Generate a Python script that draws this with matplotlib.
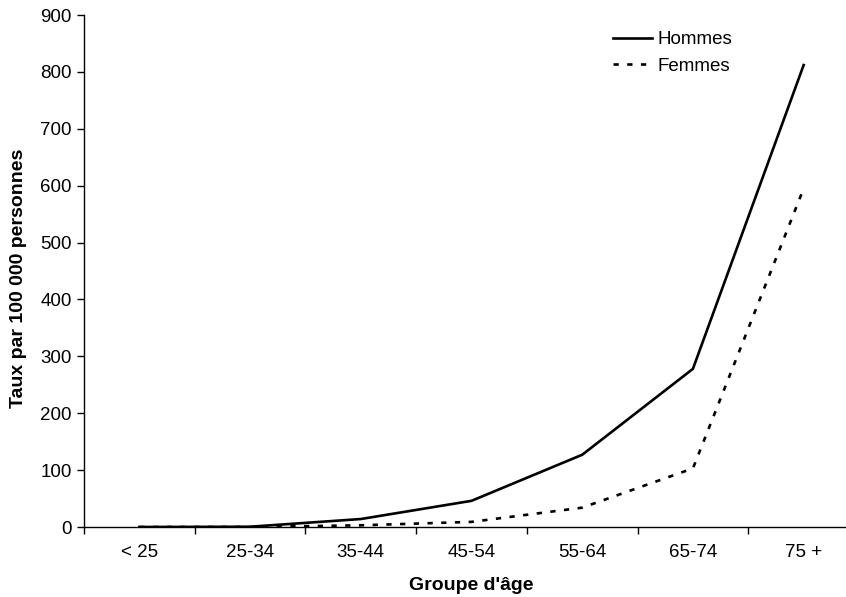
import matplotlib
matplotlib.use("Agg")
import matplotlib.pyplot as plt

plt.rcParams["font.family"] = ["Liberation Sans", "DejaVu Sans"]

age_groups = ["< 25", "25-34", "35-44", "45-54", "55-64", "65-74", "75 +"]
hommes = [0, 0.5, 14, 46, 127, 278, 812]
femmes = [0, 0, 3, 9, 34, 103, 595]
y_ticks = list(range(0, 901, 100))

FS = 13.5
W, H = 846, 597
fig = plt.figure(figsize=(W / 100, H / 100), dpi=100)
# axes extends slightly past the right edge, as in the original crop
ax = fig.add_axes([84 / W, (H - 527) / H, 775 / W, 512 / H])

x = list(range(len(age_groups)))
ax.plot(x, hommes, color="black", lw=1.9, label="Hommes")
ax.plot(x, femmes, color="black", lw=1.9, dashes=(2, 3.2), label="Femmes")

ax.set_xlim(-0.5, len(age_groups) - 0.5)
ax.set_ylim(0, 900)
ax.set_yticks(y_ticks)
ax.set_xticks(x)
ax.set_xticklabels(age_groups)
ax.set_xticks([i - 0.5 for i in range(len(age_groups) + 1)], minor=True)
ax.tick_params(axis="x", which="major", length=0, pad=12, labelsize=FS)
ax.tick_params(axis="x", which="minor", length=5, width=1, direction="out")
ax.tick_params(axis="y", length=5, width=1, direction="out", pad=4, labelsize=FS)

for side in ("top", "right"):
    ax.spines[side].set_visible(False)
for side in ("left", "bottom"):
    ax.spines[side].set_linewidth(1)

ax.set_xlabel("Groupe d'âge", fontsize=14, fontweight="bold", labelpad=12)
ax.set_ylabel("Taux par 100 000 personnes", fontsize=14, fontweight="bold")
ax.yaxis.set_label_coords(-0.073, 0.485)

ax.legend(loc="upper left", bbox_to_anchor=(0.661, 1.001), frameon=False, fontsize=FS,
          handlelength=2.08, handletextpad=0.27, labelspacing=0.5)

fig.savefig("out.png", dpi=100, facecolor="white")
